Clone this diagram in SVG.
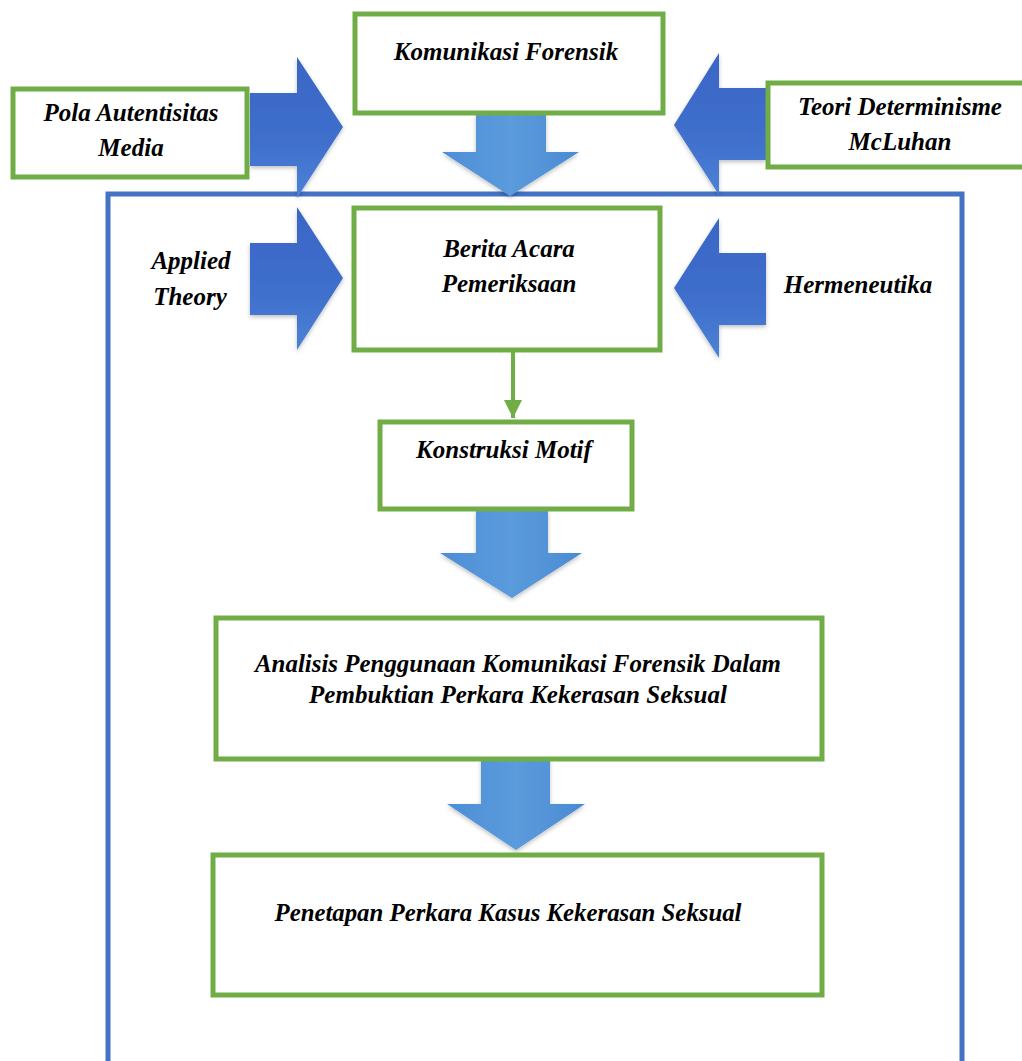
<svg xmlns="http://www.w3.org/2000/svg" width="1022" height="1061" viewBox="0 0 1022 1061">
<style>
.box{fill:#ffffff;stroke:#70AD47;stroke-width:5}
.frame{fill:none;stroke:#4472C4;stroke-width:5}
.t{font-family:"Liberation Serif","Times New Roman",serif;font-weight:bold;font-style:italic;font-size:25px;fill:#000000;text-anchor:middle}
.ha{fill:url(#gH)}
.va{fill:url(#gV)}
.link{stroke:#70AD47;stroke-width:4;fill:none}
</style>
<defs>
<linearGradient id="gH" x1="0" y1="0" x2="0" y2="1">
<stop offset="0" stop-color="#3A66C6"/>
<stop offset="0.6" stop-color="#3F6FCC"/>
<stop offset="1" stop-color="#4C82D6"/>
</linearGradient>
<linearGradient id="gV" x1="0" y1="0" x2="1" y2="0">
<stop offset="0" stop-color="#4D8ED6"/>
<stop offset="0.5" stop-color="#5B9BDC"/>
<stop offset="1" stop-color="#4A8AD2"/>
</linearGradient>
<filter id="sh" x="-10%" y="-10%" width="120%" height="130%">
<feDropShadow dx="0" dy="2" stdDeviation="2" flood-color="#000000" flood-opacity="0.25"/>
</filter>
<marker id="gArrow" viewBox="0 0 10 10" refX="10" refY="5" markerWidth="4.5" markerHeight="4.5" orient="auto" markerUnits="strokeWidth">
<path d="M0,0 L10,5 L0,10 z" fill="#70AD47"/>
</marker>
</defs>

<g id="frame">
<rect class="frame" x="108" y="194" width="854" height="900"/>
</g>

<g id="connectors">
<polygon id="arrow-pola" class="ha" filter="url(#sh)" points="250,93 297,93 297,57 343,127 297,198 297,166 250,166"/>
<polygon id="arrow-applied" class="ha" filter="url(#sh)" points="250,243 297,243 297,207 343,278 297,350 297,315 250,315"/>
<polygon id="arrow-teori" class="ha" filter="url(#sh)" points="766,88 719,88 719,53 674,125 719,195 719,160 766,160"/>
<polygon id="arrow-herme" class="ha" filter="url(#sh)" points="766,253 719,253 719,218 674,288 719,358 719,325 766,325"/>
<polygon id="arrow-down1" class="va" filter="url(#sh)" points="476,113 546,113 546,152 579,152 510,196 442,152 476,152"/>
<polygon id="arrow-down2" class="va" filter="url(#sh)" points="476,510 548,510 548,553 582,553 512,598 440,553 476,553"/>
<polygon id="arrow-down3" class="va" filter="url(#sh)" points="481,757 550,757 550,804 585,804 516,850 447,804 481,804"/>
<line class="link" x1="513" y1="352" x2="513" y2="418" marker-end="url(#gArrow)"/>
</g>

<g id="node-komunikasi">
<rect class="box" x="355" y="14" width="308" height="99"/>
<text class="t" x="506" y="60">Komunikasi Forensik</text>
</g>

<g id="node-pola">
<rect class="box" x="13" y="89" width="234" height="88"/>
<text class="t" x="131" y="121">Pola Autentisitas</text>
<text class="t" x="131" y="156">Media</text>
</g>

<g id="node-teori">
<rect class="box" x="768" y="83" width="264" height="84"/>
<text class="t" x="900" y="115">Teori Determinisme</text>
<text class="t" x="900" y="150">McLuhan</text>
</g>

<g id="node-applied">
<text class="t" x="191" y="269">Applied</text>
<text class="t" x="190" y="305">Theory</text>
</g>

<g id="node-hermeneutika">
<text class="t" x="858" y="293">Hermeneutika</text>
</g>

<g id="node-berita">
<rect class="box" x="354" y="208" width="306" height="142"/>
<text class="t" x="509" y="257">Berita Acara</text>
<text class="t" x="509" y="292">Pemeriksaan</text>
</g>

<g id="node-konstruksi">
<rect class="box" x="380" y="422" width="252" height="87"/>
<text class="t" x="504" y="458">Konstruksi Motif</text>
</g>

<g id="node-analisis">
<rect class="box" x="216" y="618" width="606" height="141"/>
<text class="t" x="518" y="672" textLength="526" lengthAdjust="spacingAndGlyphs">Analisis Penggunaan Komunikasi Forensik Dalam</text>
<text class="t" x="518" y="703" textLength="418" lengthAdjust="spacingAndGlyphs">Pembuktian Perkara Kekerasan Seksual</text>
</g>

<g id="node-penetapan">
<rect class="box" x="213" y="855" width="609" height="140"/>
<text class="t" x="508" y="921" textLength="467" lengthAdjust="spacingAndGlyphs">Penetapan Perkara Kasus Kekerasan Seksual</text>
</g>
</svg>
